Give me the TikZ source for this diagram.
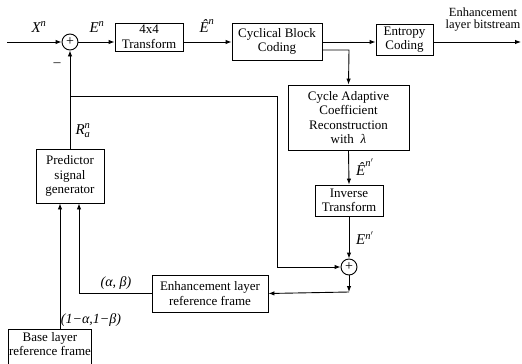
\documentclass[tikz,border=0pt]{standalone}
\usepackage{amsmath}
\usepackage{fontspec}
\setmainfont{Liberation Serif}
\usetikzlibrary{arrows.meta,calc}
\newcommand{\ti}[1]{\textit{#1}}
\begin{document}
\begin{tikzpicture}[x=1pt,y=-1pt,
  box/.style={draw,line width=0.9pt,align=center,inner sep=1pt,font=\fontsize{13}{14.5}\selectfont},
  sumnode/.style={draw,circle,line width=0.9pt,inner sep=0pt,minimum size=16pt,font=\fontsize{14}{14}\selectfont},
  conn/.style={line width=0.9pt},
  arr/.style={conn,-{Latex[length=6pt,width=4.5pt]}},
  lab/.style={font=\fontsize{15}{15}\selectfont,inner sep=0pt},
  lab2/.style={font=\fontsize{14}{14}\selectfont,inner sep=0pt},
  outlab/.style={align=center,inner sep=0pt,font=\fontsize{12.5}{12}\selectfont},
]
\useasboundingbox (0,0) rectangle (522,364);
\clip (0,0) rectangle (522,364);
% blocks
\node[box,minimum width=68pt,minimum height=28pt] (T4) at (149,37) {4x4\\Transform};
\node[box,minimum width=90pt,minimum height=37pt] (Cyc) at (277,41.5) {Cyclical Block\\Coding};
\node[box,minimum width=57pt,minimum height=31pt] (Ent) at (404.5,39.5) {Entropy\\Coding};
\node[box,minimum width=121pt,minimum height=65pt] (Cad) at (348.5,117.5) {Cycle Adaptive\\Coefficient\\Reconstruction\\with \;\ti{λ}};
\node[box,minimum width=68pt,minimum height=31pt] (Inv) at (349,200.5) {Inverse\\Transform};
\node[box,minimum width=68pt,minimum height=54pt] (Pred) at (70,176) {Predictor\\signal\\generator};
\node[box,minimum width=116pt,minimum height=37pt] (ELR) at (210,293.5) {Enhancement layer\\reference frame};
\node[box,minimum width=76pt,anchor=north,inner ysep=3pt,text depth=26pt] (Base) at (50,329) {Base layer\\reference frame};
% summing junctions
\node[sumnode] (S1) at (70,42) {+};
\node[sumnode] (S2) at (349,267) {+};
% free ends and bends
\coordinate (in) at (7,42);
\coordinate (out) at (521,42);
\coordinate (br) at (349,50);
\coordinate (j1) at (70,96);
\coordinate (k) at (277,96);
\coordinate (c2) at (349,292);
% labels
\node[lab] (lX) at (39,27) {$\ti{X}^{\ti{n}}$};
\node[lab] (lE) at (97,27) {$\ti{E}^{\ti{n}}$};
\node[lab] (lEh) at (207,26) {$\ti{Ê}^{\ti{n}}$};
\node[lab] (lR) at (83,131) {$\ti{R}_{\ti{a}}^{\ti{n}}$};
\node[lab] (lEh2) at (365,167) {$\ti{Ê}^{\ti{n}'}$};
\node[lab] (lE2) at (365,238) {$\ti{E}^{\ti{n}'}$};
\node[lab2] (lab1) at (116,283) {\ti{(α, β)}};
\node[lab2] (lab2) at (91,320) {\ti{(1−α,1−β)}};
\node[lab2] (minus) at (57,65) {–};
\node[outlab] (lout) at (483,20) {Enhancement\\layer bitstream};
% connectors
\draw[arr] (in) -- (S1.west);
\draw[arr] (S1.east) -- (S1 -| T4.west);
\draw[arr] (S1 -| T4.east) -- (S1 -| Cyc.west);
\draw[arr] (S1 -| Cyc.east) -- (S1 -| Ent.west);
\draw[arr] (S1 -| Ent.east) -- (out);
\draw[arr] (br -| Cyc.east) -- (br) -- (Cad.north);
\draw[arr] (Cad.south) -- (Inv.north);
\draw[arr] (Inv.south) -- (S2.north);
\draw[arr] (Pred.north) -- (S1.south);
\draw[arr] (j1) -- (k) |- (S2.west);
\draw[arr] (S2.south) -- (c2);
\draw[arr] (c2) -- (ELR.east);
\draw[arr] (ELR.west) -| ([xshift=9pt]Pred.south);
\draw[arr] ([xshift=10pt]Base.north) -- ([xshift=-10pt]Pred.south);
\end{tikzpicture}
\end{document}
